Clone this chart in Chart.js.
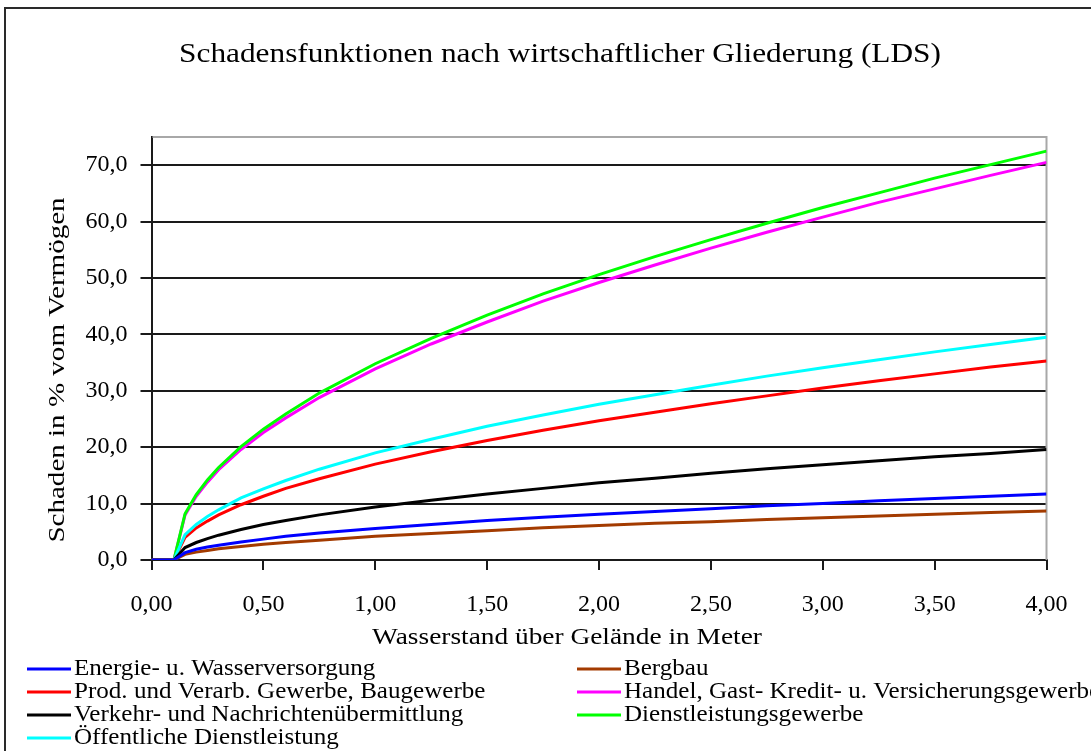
<!DOCTYPE html>
<html lang="de">
<head>
<meta charset="utf-8">
<title>Schadensfunktionen nach wirtschaftlicher Gliederung (LDS)</title>
<script src="https://cdn.jsdelivr.net/npm/chart.js@4.4.1/dist/chart.umd.min.js"></script>
<style>
  html, body { margin: 0; padding: 0; background: #ffffff; }
  #wrap { width: 1091px; height: 751px; position: relative; }
</style>
</head>
<body>
<div id="wrap"><canvas id="chart" width="1091" height="751"></canvas></div>
<script>
// Wasserstand über Gelände in Meter
const waterLevels = [0, 0.1, 0.15, 0.2, 0.25, 0.3, 0.4, 0.5, 0.6, 0.75, 1.0, 1.25, 1.5, 1.75, 2.0, 2.25, 2.5, 2.75, 3.0, 3.25, 3.5, 3.75, 4.0];

// Schaden in % vom Vermögen, je Wirtschaftszweig
const energieWasser   = [0, 0, 1.3, 1.9, 2.3, 2.6, 3.2, 3.7, 4.2, 4.8, 5.6, 6.3, 7.0, 7.6, 8.1, 8.6, 9.1, 9.6, 10.0, 10.5, 10.9, 11.3, 11.7];
const bergbau         = [0, 0, 1.0, 1.4, 1.7, 2.0, 2.4, 2.8, 3.1, 3.5, 4.2, 4.7, 5.2, 5.7, 6.1, 6.5, 6.8, 7.2, 7.5, 7.8, 8.1, 8.4, 8.7];
const prodBau         = [0, 0, 4.0, 5.7, 6.9, 8.0, 9.8, 11.3, 12.7, 14.4, 17.0, 19.2, 21.2, 23.0, 24.7, 26.2, 27.7, 29.1, 30.5, 31.8, 33.0, 34.2, 35.3];
const handelKredit    = [0, 0, 8.0, 11.3, 13.8, 16.0, 19.6, 22.6, 25.2, 28.8, 33.9, 38.3, 42.2, 45.9, 49.2, 52.3, 55.3, 58.1, 60.8, 63.4, 65.8, 68.2, 70.5];
const verkehrNachr    = [0, 0, 2.2, 3.1, 3.8, 4.4, 5.4, 6.3, 7.0, 8.0, 9.4, 10.6, 11.7, 12.7, 13.7, 14.5, 15.4, 16.2, 16.9, 17.6, 18.3, 18.9, 19.6];
const dienstleistung  = [0, 0, 8.2, 11.6, 14.2, 16.4, 20.1, 23.2, 25.9, 29.6, 34.8, 39.3, 43.4, 47.2, 50.6, 53.8, 56.8, 59.7, 62.5, 65.1, 67.7, 70.1, 72.5];
const oeffentlich     = [0, 0, 4.5, 6.3, 7.7, 8.9, 11.0, 12.6, 14.1, 16.1, 19.0, 21.4, 23.7, 25.7, 27.6, 29.3, 31.0, 32.6, 34.1, 35.5, 36.9, 38.2, 39.5];

const seriesNames = [
  'Energie- u. Wasserversorgung',
  'Bergbau',
  'Prod. und Verarb. Gewerbe, Baugewerbe',
  'Handel, Gast- Kredit- u. Versicherungsgewerbe',
  'Verkehr- und Nachrichtenübermittlung',
  'Dienstleistungsgewerbe',
  'Öffentliche Dienstleistung'
];
const seriesValues = [energieWasser, bergbau, prodBau, handelKredit, verkehrNachr, dienstleistung, oeffentlich];
const seriesColors = ['#0000ff', '#a33b00', '#ff0000', '#ff00ff', '#000000', '#00ff00', '#00ffff'];
// drawing order: lower value ends up on top
const seriesOrder  = [1, 1, 3, 5, 2, 4, 2];

const yTicks = [0, 10, 20, 30, 40, 50, 60, 70];
const xTicks = [0, 0.5, 1.0, 1.5, 2.0, 2.5, 3.0, 3.5, 4.0];

const chartTitle = 'Schadensfunktionen nach wirtschaftlicher Gliederung (LDS)';
const xTitle = 'Wasserstand über Gelände in Meter';
const yTitle = 'Schaden in % vom Vermögen';

const SERIF = '"Liberation Serif", "Times New Roman", serif';

const datasets = seriesNames.map((name, i) => ({
  label: name,
  data: waterLevels.map((x, k) => ({ x: x, y: seriesValues[i][k] })),
  borderColor: seriesColors[i],
  backgroundColor: seriesColors[i],
  borderWidth: 3,
  pointRadius: 0,
  tension: 0,
  fill: false,
  order: seriesOrder[i]
}));

// text drawn a little wider than the font's natural width
function wideText(ctx, text, x, y, sx, align, angle) {
  ctx.save();
  ctx.translate(x, y);
  if (angle) ctx.rotate(angle);
  ctx.scale(sx, 1);
  ctx.textAlign = align;
  ctx.fillText(text, 0, 0);
  ctx.restore();
}

// frame, plot border, titles and a two-column legend
const decorations = {
  id: 'decorations',
  beforeDraw(chart) {
    const ctx = chart.ctx;
    ctx.save();
    ctx.fillStyle = '#ffffff';
    ctx.fillRect(0, 0, chart.width, chart.height);
    ctx.strokeStyle = '#2a2a2a';
    ctx.lineWidth = 2;
    ctx.beginPath();
    ctx.moveTo(5, chart.height + 5);
    ctx.lineTo(5, 8);
    ctx.lineTo(chart.width + 5, 8);
    ctx.stroke();
    ctx.restore();
  },
  beforeDatasetsDraw(chart) {
    const ctx = chart.ctx;
    const a = chart.chartArea;
    ctx.save();
    ctx.strokeStyle = '#a8a8a8';
    ctx.lineWidth = 2;
    ctx.beginPath();
    ctx.moveTo(a.left + 1, a.top);
    ctx.lineTo(a.right, a.top);
    ctx.lineTo(a.right, a.bottom);
    ctx.stroke();
    ctx.restore();
  },
  afterDraw(chart) {
    const ctx = chart.ctx;
    ctx.save();
    ctx.fillStyle = '#000000';
    ctx.textBaseline = 'middle';

    ctx.font = '27px ' + SERIF;
    wideText(ctx, chartTitle, 560, 55, 1.16, 'center');

    ctx.font = '24px ' + SERIF;
    wideText(ctx, xTitle, 567, 638, 1.14, 'center');
    wideText(ctx, yTitle, 58, 370, 1.21, 'center', -Math.PI / 2);

    ctx.font = '23px ' + SERIF;
    const cols = [{ x0: 27, x1: 71 }, { x0: 577, x1: 621 }];
    const rowY = [669, 692, 715, 738];
    chart.data.datasets.forEach((ds, i) => {
      const c = cols[i % 2];
      const y = rowY[Math.floor(i / 2)];
      ctx.strokeStyle = ds.borderColor;
      ctx.lineWidth = 3;
      ctx.beginPath();
      ctx.moveTo(c.x0, y);
      ctx.lineTo(c.x1, y);
      ctx.stroke();
      ctx.fillStyle = '#000000';
      wideText(ctx, ds.label, c.x1 + 3, y, 1.09, 'left');
    });
    ctx.restore();
  }
};

new Chart(document.getElementById('chart'), {
  type: 'line',
  data: { datasets: datasets },
  plugins: [decorations],
  options: {
    responsive: false,
    animation: false,
    events: [],
    layout: { padding: { left: 0, right: 44.5, top: 137, bottom: 131 } },
    plugins: {
      legend: { display: false },
      title: { display: false },
      tooltip: { enabled: false }
    },
    scales: {
      x: {
        type: 'linear',
        min: xTicks[0],
        max: xTicks[xTicks.length - 1],
        afterFit(scale) { scale.height = 60; },
        afterBuildTicks(scale) { scale.ticks = xTicks.map(v => ({ value: v })); },
        ticks: {
          color: '#000000',
          font: { family: SERIF, size: 24 },
          padding: 20,
          maxRotation: 0,
          autoSkip: false,
          callback: v => v.toFixed(2).replace('.', ',')
        },
        grid: {
          drawOnChartArea: false,
          drawTicks: true,
          tickLength: 10,
          color: '#1a1a1a',
          lineWidth: 2
        },
        border: { display: true, color: '#1a1a1a', width: 2 }
      },
      y: {
        type: 'linear',
        min: 0,
        max: 75,
        afterFit(scale) { scale.width = 151.5; },
        afterBuildTicks(scale) { scale.ticks = yTicks.map(v => ({ value: v })); },
        ticks: {
          color: '#000000',
          font: { family: SERIF, size: 24 },
          padding: 13,
          callback: v => v.toFixed(1).replace('.', ',')
        },
        grid: {
          drawTicks: true,
          tickLength: 11,
          color: '#1a1a1a',
          lineWidth: 2
        },
        border: { display: true, color: '#1a1a1a', width: 2 }
      }
    }
  }
});
</script>
</body>
</html>
